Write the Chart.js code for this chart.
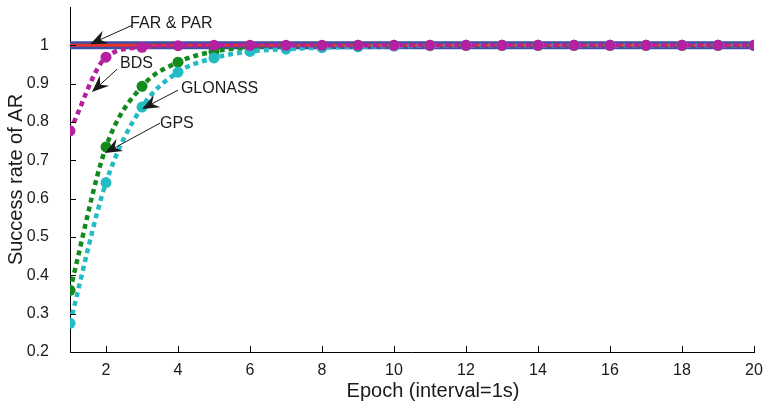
<!DOCTYPE html>
<html>
<head>
<meta charset="utf-8">
<script src="https://cdn.jsdelivr.net/npm/chart.js@4.4.1/dist/chart.umd.min.js"></script>
<style>
  html, body { margin: 0; padding: 0; background: #fff; }
  #wrap { width: 764px; height: 411px; }
</style>
</head>
<body>
<div id="wrap"><canvas id="myChart"></canvas></div>
<script>
// epochs
var epochs = [1,2,3,4,5,6,7,8,9,10,11,12,13,14,15,16,17,18,19,20];

// success rate per epoch
var farRate     = [1,1,1,1,1,1,1,1,1,1,1,1,1,1,1,1,1,1,1,1];
var parRate     = [1,1,1,1,1,1,1,1,1,1,1,1,1,1,1,1,1,1,1,1];
var bdsRate     = [0.777,0.969,0.995,0.999,1,1,1,1,1,1,1,1,1,1,1,1,1,1,1,1];
var glonassRate = [0.361,0.735,0.893,0.956,0.984,0.994,0.998,0.999,1,1,1,1,1,1,1,1,1,1,1,1];
var gpsRate     = [0.275,0.642,0.839,0.930,0.967,0.984,0.990,0.994,0.996,0.998,0.999,1,1,1,1,1,1,1,1,1];

var xTicks = [2,4,6,8,10,12,14,16,18,20];
var yTicks = [0.2,0.3,0.4,0.5,0.6,0.7,0.8,0.9,1];
var xTitle = 'Epoch (interval=1s)';
var yTitle = 'Success rate of AR';

// text labels with arrows (data coords)
var notes = [
  {text: "FAR & PAR", tx: 2.67, ty: 1.057, x0: 2.72, y0: 1.052, x1: 1.56, y1: 1.003},
  {text: "BDS",       tx: 2.39, ty: 0.953, x0: 2.31, y0: 0.938, x1: 1.61, y1: 0.878},
  {text: "GLONASS",   tx: 4.08, ty: 0.888, x0: 4.00, y0: 0.883, x1: 3.00, y1: 0.834},
  {text: "GPS",       tx: 3.50, ty: 0.795, x0: 3.50, y0: 0.797, x1: 1.97, y1: 0.719}
];

var FONT = "'Liberation Sans', Arial, Helvetica, sans-serif";
var INK = '#1a1a1a';

function toXY(arr) {
  return arr.map(function(v, i) { return {x: epochs[i], y: v}; });
}

function dotted(label, data, color) {
  return {
    label: label,
    data: toXY(data),
    borderColor: color,
    backgroundColor: color,
    borderWidth: 4.5,
    borderDash: [5, 4],
    borderCapStyle: 'butt',
    cubicInterpolationMode: 'monotone',
    pointRadius: 5.5,
    pointBorderWidth: 0,
    pointBackgroundColor: color
  };
}

// inward ticks, x title, annotations
var extras = {
  id: 'extras',
  afterDraw: function(chart) {
    var ctx = chart.ctx, xs = chart.scales.x, ys = chart.scales.y;
    var area = chart.chartArea;
    ctx.save();
    ctx.strokeStyle = '#000';
    ctx.lineWidth = 1;
    ctx.beginPath();
    xTicks.forEach(function(t) {
      var px = Math.round(xs.getPixelForValue(t)) + 0.5;
      ctx.moveTo(px, area.bottom);
      ctx.lineTo(px, area.bottom - 6);
    });
    yTicks.forEach(function(t) {
      var py = Math.round(ys.getPixelForValue(t)) + 0.5;
      ctx.moveTo(area.left, py);
      ctx.lineTo(area.left + 6, py);
    });
    ctx.stroke();

    // x title (sits a bit right of centre in the original)
    ctx.fillStyle = INK;
    ctx.font = '20px ' + FONT;
    ctx.textAlign = 'center';
    ctx.textBaseline = 'alphabetic';
    ctx.fillText(xTitle, (area.left + area.right) / 2 + 21, area.bottom + 45);

    ctx.font = '16px ' + FONT;
    ctx.textBaseline = 'middle';
    ctx.textAlign = 'left';
    notes.forEach(function(n) {
      ctx.fillText(n.text, xs.getPixelForValue(n.tx), ys.getPixelForValue(n.ty));
      var ax = xs.getPixelForValue(n.x0), ay = ys.getPixelForValue(n.y0);
      var bx = xs.getPixelForValue(n.x1), by = ys.getPixelForValue(n.y1);
      var ang = Math.atan2(by - ay, bx - ax);
      var L = 17, W = 7;
      ctx.strokeStyle = INK;
      ctx.lineWidth = 1;
      ctx.beginPath();
      ctx.moveTo(ax, ay);
      ctx.lineTo(bx - Math.cos(ang) * L * 0.6, by - Math.sin(ang) * L * 0.6);
      ctx.stroke();
      // arrow head
      var bxb = bx - Math.cos(ang) * L, byb = by - Math.sin(ang) * L;
      var nx = -Math.sin(ang), ny = Math.cos(ang);
      ctx.beginPath();
      ctx.moveTo(bx, by);
      ctx.lineTo(bxb + nx * W, byb + ny * W);
      ctx.lineTo(bx - Math.cos(ang) * L * 0.65, by - Math.sin(ang) * L * 0.65);
      ctx.lineTo(bxb - nx * W, byb - ny * W);
      ctx.closePath();
      ctx.fill();
    });
    ctx.restore();
  }
};

var ctx = document.getElementById("myChart").getContext("2d");
var myChart = new Chart(ctx, {
  type: 'line',
  data: {
    datasets: [
      dotted("BDS", bdsRate, "#b5209f"),
      dotted("GPS", gpsRate, "#23bcc4"),
      dotted("GLONASS", glonassRate, "#128a1c"),
      {
        label: "PAR", data: toXY(parRate), borderColor: "#e8342a",
        borderWidth: 3, pointRadius: 0
      },
      {
        label: "FAR", data: toXY(farRate), borderColor: "#3c4fa6",
        borderWidth: 8, pointRadius: 0
      }
    ]
  },
  options: {
    responsive: true,
    maintainAspectRatio: false,
    animation: false,
    layout: { padding: { left: 0, right: 10, top: 7, bottom: 0 } },
    plugins: { legend: { display: false }, tooltip: { enabled: false } },
    scales: {
      x: {
        type: 'linear', min: 1, max: 20,
        afterBuildTicks: function(s) { s.ticks = xTicks.map(function(v) { return {value: v}; }); },
        afterFit: function(s) { s.height = 59; s.paddingLeft = 0; s.paddingRight = 0; },
        grid: { display: false },
        border: { display: true, color: '#000', width: 1 },
        ticks: { color: INK, font: { size: 16, family: FONT }, padding: 1, maxRotation: 0 },
        title: { display: false }
      },
      y: {
        type: 'linear', min: 0.2, max: 1.1,
        afterBuildTicks: function(s) { s.ticks = yTicks.map(function(v) { return {value: v}; }); },
        afterFit: function(s) { s.width = 70; s.paddingTop = 0; s.paddingBottom = 0; },
        grid: { display: false },
        border: { display: true, color: '#000', width: 1 },
        ticks: { color: INK, font: { size: 16, family: FONT }, padding: 13,
                 callback: function(v) { return String(Math.round(v * 10) / 10); } },
        title: { display: true, text: yTitle, color: INK,
                 font: { size: 20, family: FONT }, padding: { top: 4, bottom: 0 } }
      }
    }
  },
  plugins: [extras]
});
</script>
</body>
</html>
